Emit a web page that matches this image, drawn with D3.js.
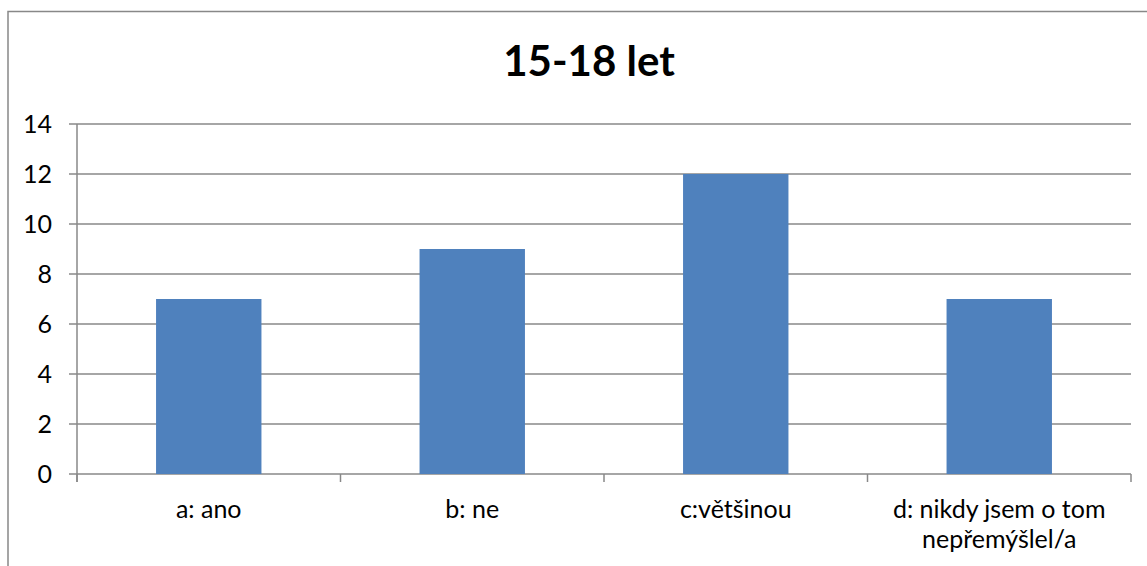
<!DOCTYPE html>
<html>
<head>
<meta charset="utf-8">
<script src="https://cdn.jsdelivr.net/npm/d3@7"></script>
<style>
  body { margin: 0; background: #fff; }
  text { font-family: Lato, 'Open Sans', sans-serif; fill: #000; }
</style>
</head>
<body>
<svg id="chart" width="1147" height="566"></svg>
<script>
const categories = ['a: ano', 'b: ne', 'c:většinou', 'd: nikdy jsem o tom nepřemýšlel/a'];
const values = [7, 9, 12, 7];
const yTicks = [0, 2, 4, 6, 8, 10, 12, 14];
const title = '15-18 let';

const svg = d3.select('#chart');
const margin = { left: 77, right: 1131, top: 124, bottom: 474 };

// outer frame (right and bottom edges run off the picture)
svg.append('path')
  .attr('d', 'M8,566 L8,11.5 L1147,11.5')
  .attr('fill', 'none')
  .attr('stroke', '#888')
  .attr('stroke-width', 1.5);

const x = d3.scaleBand(categories, [margin.left, margin.right]).paddingInner(0.6).paddingOuter(0.3);
const xOuter = d3.scaleBand(categories, [margin.left, margin.right]);
const y = d3.scaleLinear([0, 14], [margin.bottom, margin.top]);

// gridlines
svg.append('g')
  .selectAll('line')
  .data(yTicks)
  .join('line')
  .attr('x1', margin.left - 8)
  .attr('x2', margin.right)
  .attr('y1', (d) => y(d))
  .attr('y2', (d) => y(d))
  .attr('stroke', '#888')
  .attr('stroke-width', 1.5);

// y axis line
svg.append('line')
  .attr('x1', margin.left).attr('x2', margin.left)
  .attr('y1', margin.top).attr('y2', margin.bottom + 8)
  .attr('stroke', '#888').attr('stroke-width', 1.5);

// x category ticks
const xTickPos = categories.map((c) => xOuter(c)).concat([margin.right]);
svg.append('g')
  .selectAll('line')
  .data(xTickPos)
  .join('line')
  .attr('x1', (d) => d).attr('x2', (d) => d)
  .attr('y1', margin.bottom).attr('y2', margin.bottom + 8)
  .attr('stroke', '#888').attr('stroke-width', 1.5);

// y labels
svg.append('g')
  .selectAll('text')
  .data(yTicks)
  .join('text')
  .attr('x', 52)
  .attr('y', (d) => y(d))
  .attr('dy', '0.35em')
  .attr('text-anchor', 'end')
  .style('font-size', '25px')
  .text((d) => d);

// bars
svg.append('g')
  .selectAll('rect')
  .data(values)
  .join('rect')
  .attr('x', (d, i) => x(categories[i]))
  .attr('width', x.bandwidth())
  .attr('y', (d) => y(d))
  .attr('height', (d) => y(0) - y(d))
  .attr('fill', '#4F81BD');

// x labels, wrapped like the original
const labelLines = (c) => c.startsWith('d:') ? ['d: nikdy jsem o tom', 'nepřemýšlel/a'] : [c];
svg.append('g')
  .selectAll('text')
  .data(categories)
  .join('text')
  .attr('text-anchor', 'middle')
  .style('font-size', '25px')
  .each(function (c) {
    const cx = xOuter(c) + xOuter.bandwidth() / 2;
    d3.select(this)
      .selectAll('tspan')
      .data(labelLines(c))
      .join('tspan')
      .attr('x', cx)
      .attr('y', (d, i) => 518 + i * 30)
      .text((d) => d);
  });

// title
svg.append('text')
  .attr('x', 589)
  .attr('y', 76)
  .attr('text-anchor', 'middle')
  .style('font-size', '42px')
  .style('font-weight', 'bold')
  .text(title);
</script>
</body>
</html>
